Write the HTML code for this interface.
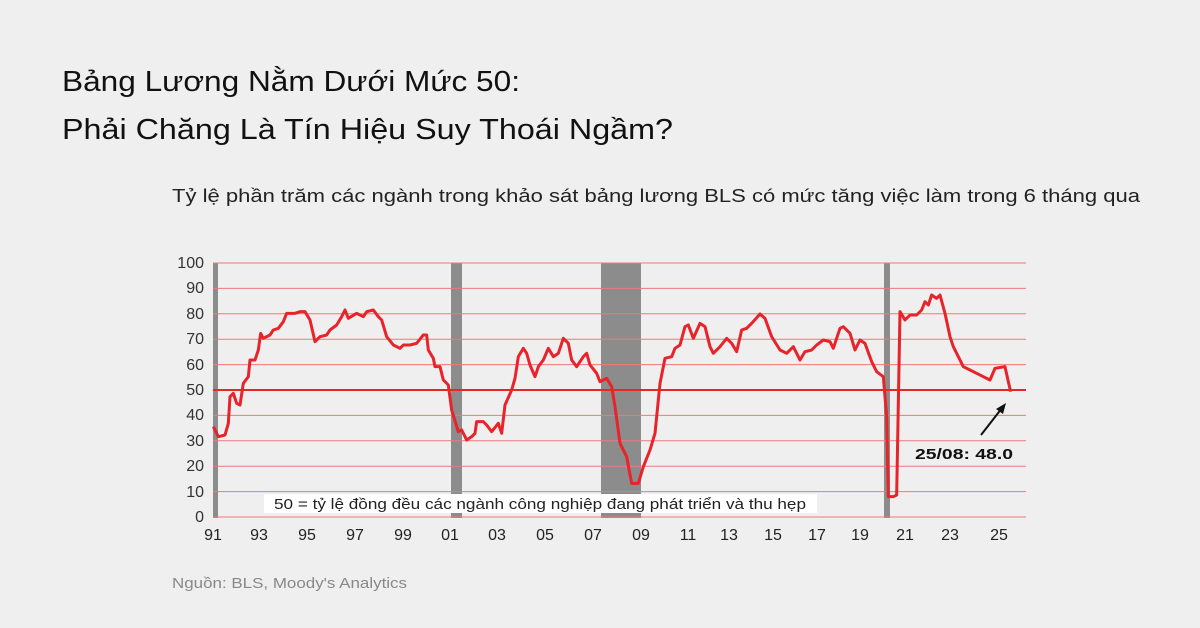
<!DOCTYPE html>
<html><head><meta charset="utf-8"><style>
html,body{margin:0;padding:0;background:#efefef;}
svg{display:block;}
</style></head><body>
<svg width="1200" height="628" viewBox="0 0 1200 628" xmlns="http://www.w3.org/2000/svg" font-family="Liberation Sans, DejaVu Sans, sans-serif">
<rect width="1200" height="628" fill="#efefef"/>
<text x="62" y="91" font-size="29" fill="#111" textLength="458" lengthAdjust="spacingAndGlyphs">Bảng Lương Nằm Dưới Mức 50:</text>
<text x="62" y="139" font-size="29" fill="#111" textLength="611" lengthAdjust="spacingAndGlyphs">Phải Chăng Là Tín Hiệu Suy Thoái Ngầm?</text>
<text x="172" y="202" font-size="18" fill="#222" textLength="968" lengthAdjust="spacingAndGlyphs">Tỷ lệ phần trăm các ngành trong khảo sát bảng lương BLS có mức tăng việc làm trong 6 tháng qua</text>
<rect x="213" y="263" width="5" height="255" fill="#8c8c8c"/>
<rect x="451" y="263" width="11" height="255" fill="#8c8c8c"/>
<rect x="601" y="263" width="40" height="255" fill="#8c8c8c"/>
<rect x="884" y="263" width="6" height="255" fill="#8c8c8c"/>
<g stroke="#ee7a7a" stroke-width="1">
<line x1="213" x2="1026" y1="263" y2="263"/><line x1="213" x2="1026" y1="288.4" y2="288.4"/>
<line x1="213" x2="1026" y1="313.8" y2="313.8"/><line x1="213" x2="1026" y1="339.2" y2="339.2"/>
<line x1="213" x2="1026" y1="364.6" y2="364.6"/><line x1="213" x2="1026" y1="415.4" y2="415.4"/>
<line x1="213" x2="1026" y1="440.8" y2="440.8"/><line x1="213" x2="1026" y1="466.2" y2="466.2"/>
<line x1="213" x2="1026" y1="491.6" y2="491.6"/><line x1="213" x2="1026" y1="517" y2="517"/>
</g>
<line x1="213" x2="1026" y1="390" y2="390" stroke="#e5262b" stroke-width="2"/>
<rect x="264" y="494" width="553" height="19" fill="#fff"/>
<text x="274" y="509" font-size="15" fill="#222" textLength="532" lengthAdjust="spacingAndGlyphs">50 = tỷ lệ đồng đều các ngành công nghiệp đang phát triển và thu hẹp</text>
<g font-size="16" fill="#333" text-anchor="end">
<text x="204" y="268">100</text><text x="204" y="293">90</text><text x="204" y="319">80</text><text x="204" y="344">70</text>
<text x="204" y="370">60</text><text x="204" y="395">50</text><text x="204" y="420">40</text><text x="204" y="446">30</text>
<text x="204" y="471">20</text><text x="204" y="497">10</text><text x="204" y="522">0</text>
</g>
<g font-size="16" fill="#222" text-anchor="middle">
<text x="213" y="540">91</text><text x="259" y="540">93</text><text x="307" y="540">95</text><text x="355" y="540">97</text>
<text x="403" y="540">99</text><text x="450" y="540">01</text><text x="497" y="540">03</text><text x="545" y="540">05</text>
<text x="593" y="540">07</text><text x="641" y="540">09</text><text x="688" y="540">11</text><text x="729" y="540">13</text>
<text x="773" y="540">15</text><text x="817" y="540">17</text><text x="860" y="540">19</text><text x="905" y="540">21</text>
<text x="950" y="540">23</text><text x="999" y="540">25</text>
</g>
<g fill="none" stroke="#e8232a" stroke-width="9" stroke-linejoin="round">
<polyline transform="translate(170,250) scale(0.33333)" points="130,530 145,560 165,555 175,520 180,440 190,430 200,460 210,465 220,400 235,380 240,330 255,330 265,300 272,250 280,265 300,255 310,240 325,235 340,215 350,190 375,190 390,185 405,185 420,210 435,275 450,260 470,255 480,240 500,225 515,200 525,180 535,205 560,190 580,200 590,185 610,180 625,200 635,210 650,260 670,285 690,295 700,285 720,285 740,280 760,255 770,255 775,300 790,325 795,350 810,350 820,390 835,405 845,480 865,545 875,540 890,570 905,560 915,550 920,515 940,515 950,525 965,545 985,520 995,550 1005,465 1025,420 1035,385 1045,320 1060,295 1070,310 1080,345 1095,380 1105,350 1120,330 1135,295 1150,320 1165,310 1180,265 1195,280 1205,330 1220,350 1240,320 1250,310 1260,345 1280,370 1290,395 1310,385 1325,410 1335,470 1350,580"/>
<polyline transform="translate(620,250) scale(0.33333)" points="0,580 20,620 35,700 55,700 70,650 90,600 105,550 120,400 135,325 155,320 165,295 180,285 195,230 205,225 220,265 240,220 255,230 270,290 280,310 300,290 320,265 335,280 350,305 365,240 380,235 395,220 420,192 435,205 455,260 480,300 500,310 520,290 540,330 555,305 575,300 590,285 610,270 630,275 640,295 660,235 670,230 690,250 705,300 720,270 735,280 755,335 770,365 790,380 800,500 805,740 820,740 830,735 840,185 855,210 870,195 890,195 905,180 915,155 925,165 935,135 950,145 960,135 975,190 990,260 1000,290 1015,320 1030,350 1050,360 1070,370 1090,380 1110,390 1125,355 1155,350 1165,395 1172,425"/>
</g>
<line x1="981" y1="435" x2="1002" y2="408" stroke="#111" stroke-width="2"/>
<polygon points="1006,403 996,409 1003,414" fill="#111"/>
<text x="915" y="459" font-size="15" font-weight="bold" fill="#111" textLength="98" lengthAdjust="spacingAndGlyphs">25/08: 48.0</text>
<text x="172" y="588" font-size="15" fill="#888" textLength="235" lengthAdjust="spacingAndGlyphs">Nguồn: BLS, Moody's Analytics</text>
</svg>
</body></html>
